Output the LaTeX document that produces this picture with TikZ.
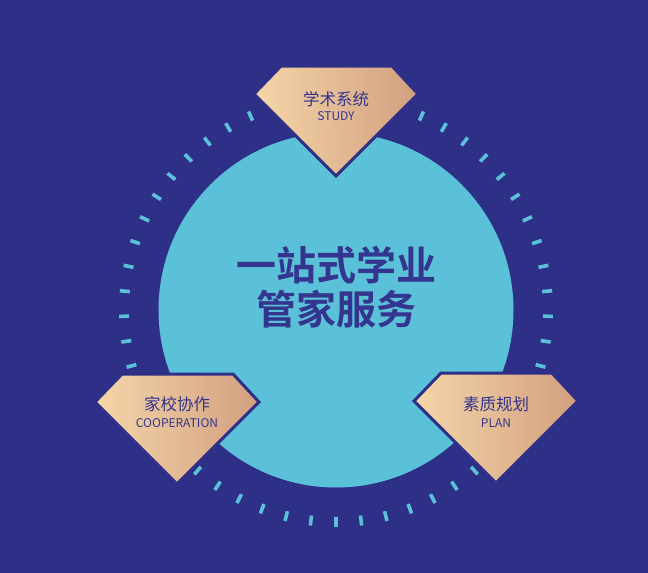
\documentclass[tikz,border=0pt]{standalone}
\usepackage{fontspec}
\newfontfamily\cjk{Noto Sans CJK SC}
\newfontfamily\cjkbold{Noto Sans CJK SC Bold}
\definecolor{bgblue}{HTML}{2E3088}
\definecolor{circblue}{HTML}{5BC1D9}
\definecolor{txtblue}{HTML}{34358E}
\definecolor{goldL}{HTML}{F5D6A9}
\definecolor{goldR}{HTML}{D29F7E}
\tikzset{
  tick/.style={circblue, line width=3.6pt},
  gem/.style={draw=bgblue, line width=3pt, line join=miter, left color=goldL, right color=goldR, shading angle=90},
  cntext/.style={inner sep=0pt, anchor=base, text=txtblue, font=\cjk\fontsize{16.5}{18}\selectfont},
  entext/.style={inner sep=0pt, anchor=base, text=txtblue, font=\cjk\fontsize{12}{13}\selectfont},
  bigtext/.style={inner sep=0pt, anchor=base, text=txtblue, font=\cjkbold\fontsize{40}{44}\selectfont}
}
\newcommand{\gemshape}[2]{%
  \path[gem] (#1-55,#2) -- (#1+56,#2) -- (#1+82,#2+28) -- (#1,#2+110) -- (#1-82,#2+28) -- cycle;
}
\begin{document}
\begin{tikzpicture}[x=1pt,y=-1pt]
\fill[bgblue] (0,0) rectangle (648,573);
\useasboundingbox (0,0) rectangle (648,573);
% dashed ring
\foreach \k in {0,...,52}{
  \pgfmathsetmacro{\a}{90+\k*6.79245}
  \draw[tick] (336,310) ++(\a:207) -- ++(\a:10);
}
% main circle
\fill[circblue] (336,310) circle[radius=177.5];
\node[bigtext] (l1) at (336,280.5) {一站式学业};
\node[bigtext] (l2) at (336,324.5) {管家服务};
% gems
\gemshape{336}{66}
\node[cntext] (s1) at (336,105) {学术系统};
\node[entext] (s2) at (336,120) {STUDY};
\gemshape{177}{374}
\node[cntext] (c1) at (177,410.5) {家校协作};
\node[entext] (c2) at (177,427.5) {COOPERATION};
\gemshape{496}{373}
\node[cntext] (p1) at (496,410.5) {素质规划};
\node[entext] (p2) at (496,427.5) {PLAN};
\end{tikzpicture}
\end{document}
